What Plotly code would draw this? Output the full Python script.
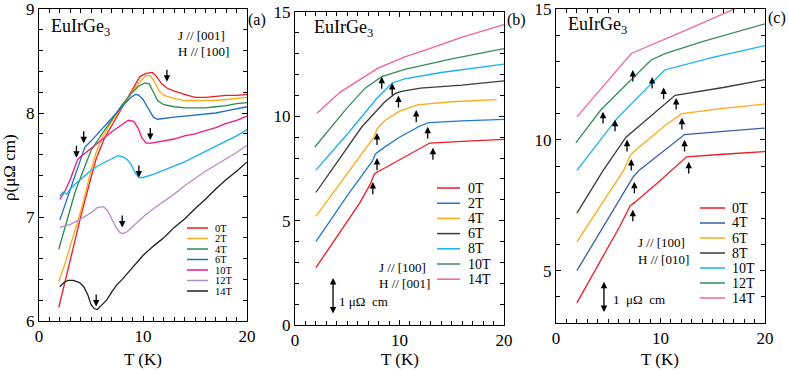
import plotly.graph_objects as go

FONT = "'Liberation Serif', 'Times New Roman', Times, 'DejaVu Serif', serif"
W, H = 789, 370

# ---------------- panel (a): J // [001], H // [100] ----------------
A0_T = [1.9, 2.5, 3.0, 3.5, 4.0, 4.5, 5.0, 5.5, 6.3, 7.0, 8.0, 9.0, 9.7, 10.3, 10.9, 11.3, 11.8, 12.3, 13.0, 14.0, 15.0, 16.0, 17.0, 18.0, 19.0, 20.0]
A0_R = [6.13, 6.37, 6.58, 6.79, 7.0, 7.2, 7.38, 7.56, 7.76, 7.88, 8.05, 8.23, 8.35, 8.38, 8.39, 8.35, 8.28, 8.24, 8.21, 8.18, 8.15, 8.15, 8.16, 8.17, 8.17, 8.18]
A2_T = [1.9, 2.5, 3.0, 3.5, 4.0, 4.5, 5.0, 5.5, 6.0, 7.0, 8.0, 9.0, 9.8, 10.3, 10.7, 11.1, 11.5, 12.0, 13.0, 14.0, 15.0, 16.0, 17.0, 18.0, 19.0, 20.0]
A2_R = [6.38, 6.55, 6.72, 6.88, 7.05, 7.24, 7.45, 7.62, 7.75, 7.92, 8.07, 8.21, 8.31, 8.36, 8.36, 8.30, 8.22, 8.17, 8.14, 8.12, 8.12, 8.12, 8.12, 8.13, 8.14, 8.15]
A4_T = [1.9, 2.5, 3.0, 3.5, 4.0, 4.5, 5.0, 6.0, 7.0, 8.0, 9.0, 9.6, 10.2, 10.6, 11.0, 11.4, 12.0, 13.0, 14.0, 15.0, 16.0, 17.0, 18.0, 19.0, 20.0]
A4_R = [6.69, 6.90, 7.10, 7.25, 7.38, 7.52, 7.64, 7.79, 7.94, 8.08, 8.20, 8.26, 8.29, 8.28, 8.20, 8.12, 8.08, 8.06, 8.05, 8.05, 8.05, 8.06, 8.07, 8.09, 8.10]
A6_T = [2.0, 2.5, 3.0, 3.5, 4.0, 4.4, 5.0, 6.0, 7.0, 8.0, 8.7, 9.3, 9.6, 10.0, 10.5, 11.0, 11.4, 12.0, 13.0, 14.0, 15.0, 16.0, 17.0, 18.0, 19.0, 20.0]
A6_R = [6.97, 7.12, 7.26, 7.42, 7.56, 7.67, 7.73, 7.84, 7.96, 8.07, 8.14, 8.18, 8.17, 8.13, 8.05, 7.96, 7.94, 7.95, 7.96, 7.97, 7.98, 7.99, 8.00, 8.02, 8.04, 8.06]
A8_T = [2.0, 2.3, 2.7, 3.0, 3.5, 4.0, 5.0, 6.0, 7.0, 7.6, 8.0, 8.5, 8.9, 9.2, 9.6, 10.0, 11.0, 12.0, 13.0, 14.0, 15.0, 16.0, 17.0, 18.0, 19.0, 20.0]
A8_R = [7.20, 7.24, 7.22, 7.27, 7.32, 7.36, 7.45, 7.51, 7.56, 7.59, 7.58, 7.55, 7.50, 7.43, 7.38, 7.38, 7.41, 7.45, 7.49, 7.53, 7.58, 7.63, 7.68, 7.73, 7.78, 7.84]
A10_T = [2.0, 2.5, 3.0, 3.4, 3.7, 4.0, 5.0, 6.0, 7.0, 8.0, 8.6, 9.1, 9.5, 9.9, 10.3, 10.8, 12.0, 13.0, 14.0, 15.0, 16.0, 17.0, 18.0, 19.0, 20.0]
A10_R = [7.17, 7.25, 7.36, 7.48, 7.55, 7.58, 7.66, 7.74, 7.82, 7.89, 7.93, 7.92, 7.86, 7.76, 7.71, 7.71, 7.73, 7.75, 7.78, 7.80, 7.83, 7.86, 7.90, 7.93, 7.97]
A12_T = [2.0, 3.0, 4.0, 5.0, 5.6, 6.2, 6.6, 7.0, 7.4, 7.8, 8.1, 8.5, 9.0, 10.0, 11.0, 12.0, 13.0, 14.0, 15.0, 16.0, 17.0, 18.0, 19.0, 20.0]
A12_R = [6.90, 6.93, 6.98, 7.04, 7.09, 7.10, 7.06, 6.98, 6.90, 6.85, 6.84, 6.86, 6.91, 7.00, 7.08, 7.15, 7.22, 7.30, 7.37, 7.44, 7.50, 7.56, 7.62, 7.69]
A14_T = [2.0, 2.4, 2.8, 3.3, 3.9, 4.3, 4.7, 5.0, 5.3, 5.6, 6.0, 6.5, 7.0, 7.5, 8.0, 9.0, 10.0, 11.0, 12.0, 13.0, 14.0, 15.0, 16.0, 17.0, 18.0, 19.0, 20.0]
A14_R = [6.33, 6.37, 6.39, 6.39, 6.37, 6.33, 6.25, 6.16, 6.12, 6.11, 6.15, 6.20, 6.28, 6.35, 6.40, 6.52, 6.63, 6.72, 6.80, 6.90, 6.98, 7.08, 7.17, 7.27, 7.36, 7.44, 7.53]
A_ARROW_T = [3.6, 4.3, 12.3, 10.7, 9.6, 8.0, 5.5]
A_ARROW_R = [7.57, 7.71, 8.30, 7.74, 7.38, 6.90, 6.14]
A_LEGEND = ["0T", "2T", "4T", "6T", "10T", "12T", "14T"]

# ---------------- panel (b): J // [100], H // [001] ----------------
B0_T = [2.0, 4.0, 6.2, 7.2, 7.6, 8.5, 10.0, 12.9, 16.0, 20.0]
B0_R = [2.75, 4.25, 5.85, 6.75, 7.25, 7.5, 7.92, 8.72, 8.8, 8.9]
B2_T = [2.0, 5.0, 7.4, 7.7, 8.5, 10.0, 12.0, 12.8, 16.0, 20.0]
B2_R = [4.0, 6.2, 7.85, 8.2, 8.5, 9.0, 9.55, 9.7, 9.78, 9.85]
B4_T = [2.0, 4.0, 6.0, 7.55, 7.85, 8.6, 10.0, 11.7, 15.0, 19.3]
B4_R = [5.2, 6.55, 7.9, 9.0, 9.4, 9.8, 10.25, 10.55, 10.7, 10.8]
B6_T = [2.0, 3.5, 6.4, 8.6, 9.6, 10.2, 12.0, 16.0, 20.0]
B6_R = [6.35, 7.43, 9.5, 10.7, 11.1, 11.2, 11.35, 11.5, 11.7]
B8_T = [2.0, 5.1, 7.9, 9.3, 10.5, 14.0, 20.0]
B8_R = [7.42, 9.2, 10.9, 11.6, 11.8, 12.1, 12.5]
B10_T = [1.9, 4.8, 6.7, 8.3, 10.5, 15.0, 20.0]
B10_R = [8.53, 10.3, 11.35, 11.9, 12.25, 12.75, 13.25]
B14_T = [2.1, 4.3, 7.9, 10.5, 12.6, 16.0, 20.0]
B14_R = [10.15, 11.15, 12.3, 12.85, 13.2, 13.8, 14.4]
B_ARROW_T = [8.3, 9.3, 9.9, 11.6, 12.7, 13.2, 7.85, 7.85, 7.45]
B_ARROW_R = [11.9, 11.6, 11.0, 10.3, 9.5, 8.5, 9.2, 8.0, 6.85]
B_LEGEND = ["0T", "2T", "4T", "6T", "8T", "10T", "14T"]

# ---------------- panel (c): J // [100], H // [010] ----------------
C0_T = [2.0, 6.1, 7.1, 7.5, 9.65, 12.5, 16.0, 20.0]
C0_R = [3.77, 6.69, 7.48, 7.6, 8.33, 9.35, 9.45, 9.55]
C4_T = [2.0, 7.1, 7.4, 8.0, 12.3, 16.0, 20.0]
C4_R = [5.0, 8.35, 8.59, 8.85, 10.2, 10.32, 10.45]
C6_T = [2.0, 6.5, 7.1, 7.6, 10.5, 12.05, 16.0, 20.0]
C6_R = [6.1, 8.85, 9.4, 9.6, 10.57, 11.0, 11.2, 11.37]
C8_T = [2.0, 4.5, 6.7, 10.5, 11.4, 16.0, 20.0]
C8_R = [7.2, 8.82, 10.1, 11.4, 11.7, 12.0, 12.3]
C10_T = [2.0, 5.8, 10.4, 15.0, 20.0]
C10_R = [8.83, 10.8, 12.67, 13.15, 13.6]
C12_T = [1.9, 4.3, 9.1, 10.5, 14.0, 20.0]
C12_R = [9.88, 11.15, 13.05, 13.3, 13.75, 14.43]
C14_T = [2.0, 7.2, 12.5, 16.8, 20.0]
C14_R = [10.88, 13.3, 14.2, 14.96, 15.6]
C_ARROW_T = [7.35, 9.2, 10.3, 4.5, 5.65, 6.8, 11.5, 12.05, 12.3, 7.2, 12.7, 7.5, 7.35]
C_ARROW_R = [12.67, 12.4, 12.0, 11.07, 10.77, 10.0, 11.6, 10.84, 10.0, 9.27, 9.16, 8.4, 7.33]
C_LEGEND = ["0T", "4T", "6T", "8T", "10T", "12T", "14T"]

RED, ORANGE, BLACK = "#ec1c24", "#fbab19", "#231f20"
A_COLORS = [RED, ORANGE, "#2f8a4e", "#1f6ec2", "#ec1a7c", "#18b2eb", "#b58dc6", BLACK]
B_COLORS = [RED, "#1f7ac9", ORANGE, "#3b3b3b", "#19b0ec", "#3a8b5c", "#f0619b"]
C_COLORS = [RED, "#3b5da8", ORANGE, "#3b3b3b", "#19b0ec", "#3a8b5c", "#f0689f"]


def px(x):
    return x / W


def py(y):
    return 1 - y / H


def _axis(rng, dtick, mdtick, domain, anchor):
    return dict(
        range=rng, domain=domain, anchor=anchor, dtick=dtick, tick0=0,
        automargin=False, ticklabeloverflow="allow",
        ticks="inside", ticklen=5, tickwidth=1, tickcolor="black",
        showline=True, linecolor="black", linewidth=1, mirror="allticks",
        showgrid=False, zeroline=False,
        tickfont=dict(family=FONT, size=17, color="black"),
        minor=dict(dtick=mdtick, tick0=0, ticks="inside", ticklen=4,
                   tickcolor="black", showgrid=False),
    )


fig = go.Figure()

panels = [
    ("x", "y", [(A0_T, A0_R), (A2_T, A2_R), (A4_T, A4_R), (A6_T, A6_R), (A10_T, A10_R),
                (A8_T, A8_R), (A12_T, A12_R), (A14_T, A14_R)], A_COLORS),
    ("x2", "y2", [(B0_T, B0_R), (B2_T, B2_R), (B4_T, B4_R), (B6_T, B6_R), (B8_T, B8_R),
                  (B10_T, B10_R), (B14_T, B14_R)], B_COLORS),
    ("x3", "y3", [(C0_T, C0_R), (C4_T, C4_R), (C6_T, C6_R), (C8_T, C8_R), (C10_T, C10_R),
                  (C12_T, C12_R), (C14_T, C14_R)], C_COLORS),
]
for xa, ya, series, colors in panels:
    for (t, r), c in zip(series, colors):
        fig.add_trace(go.Scatter(x=t, y=r, xaxis=xa, yaxis=ya, mode="lines",
                                 line=dict(color=c, width=1.3), showlegend=False,
                                 hoverinfo="skip"))

ann = []
shapes = []

# transition arrows
for ts, rs, xr, yr, length in [(A_ARROW_T, A_ARROW_R, "x", "y", 0.13),
                               (B_ARROW_T, B_ARROW_R, "x2", "y2", -0.65),
                               (C_ARROW_T, C_ARROW_R, "x3", "y3", -0.5)]:
    for t, r in zip(ts, rs):
        ann.append(dict(x=t, y=r, ax=t, ay=r + length, xref=xr, yref=yr,
                        axref=xr, ayref=yr, text="", showarrow=True,
                        arrowhead=2, arrowsize=1, arrowwidth=1.3, arrowcolor="black"))

# 1 µΩ cm scale bars
for t, r0, r1, xr, yr in [(3.64, 0.48, 2.25, "x2", "y2"), (4.59, 3.36, 4.58, "x3", "y3")]:
    ann.append(dict(x=t, y=r1, ax=t, ay=r0, xref=xr, yref=yr, axref=xr, ayref=yr,
                    text="", showarrow=True, arrowhead=2, arrowside="end+start",
                    arrowsize=1, arrowwidth=1.3, arrowcolor="black"))


def text(x, y, s, size, anchor="left"):
    ann.append(dict(x=px(x), y=py(y), xref="paper", yref="paper", text=s,
                    showarrow=False, xanchor=anchor, yanchor="middle",
                    font=dict(family=FONT, size=size, color="black")))


for x, y in [(49, 27), (312, 28), (566, 26)]:
    text(x, y, "EuIrGe<sub>3</sub>", 18)
text(268, 20, "(a)", 16, anchor="right")
text(528, 20, "(b)", 16, anchor="right")
text(788, 18, "(c)", 16, anchor="right")
text(176, 35, "J // [001]", 13)
text(176, 51, "H // [100]", 13)
text(377, 267, "J // [100]", 13)
text(377, 283, "H // [001]", 13)
text(636, 243, "J // [100]", 13)
text(636, 259, "H // [010]", 13)
text(337, 301, "1 μΩ  cm", 13)
text(611, 299, "1  μΩ  cm", 13)
for xc in [143, 400, 660]:
    text(xc, 359, "T (K)", 17, anchor="center")
ann.append(dict(x=px(9), y=py(168), xref="paper", yref="paper", text="ρ(μΩ cm)",
                textangle=-90, showarrow=False, xanchor="center", yanchor="middle",
                font=dict(family=FONT, size=17, color="black")))

# hand-placed legends
for labels, colors, x0, x1, xt, y0, step, size in [
        (A_LEGEND, A_COLORS[:5] + A_COLORS[6:], 187, 208, 213, 228, 10.5, 10.5),
        (B_LEGEND, B_COLORS, 437, 460, 466, 188, 15.2, 14),
        (C_LEGEND, C_COLORS, 700, 725, 730, 208, 15.0, 14)]:
    for i, (lab, c) in enumerate(zip(labels, colors)):
        yy = y0 + i * step
        shapes.append(dict(type="line", xref="paper", yref="paper",
                           x0=px(x0), x1=px(x1), y0=py(yy), y1=py(yy),
                           line=dict(color=c, width=1.5)))
        text(xt, yy, lab, size)

fig.update_layout(
    template="none",
    width=W, height=H, margin=dict(l=0, r=0, t=0, b=0, autoexpand=False),
    plot_bgcolor="white", paper_bgcolor="white",
    font=dict(family=FONT, color="black"),
    xaxis=_axis([0, 20], 10, 1, [px(39), px(247)], "y"),
    yaxis=_axis([6, 9], 1, 0.2, [py(321), py(9)], "x"),
    xaxis2=_axis([0, 20], 10, 1, [px(295), px(504)], "y2"),
    yaxis2=_axis([0, 15], 5, 1, [py(325), py(12)], "x2"),
    xaxis3=_axis([0, 20], 10, 1, [px(556), px(765)], "y3"),
    yaxis3=_axis([3, 15], 5, 1, [py(323), py(9)], "x3"),
    annotations=ann, shapes=shapes, showlegend=False,
)

# page body margin would push the fixed-size figure off the 789x370 window
fig.write_html("out.html", config={"displayModeBar": False},
               post_script="document.body.style.margin='0';")
